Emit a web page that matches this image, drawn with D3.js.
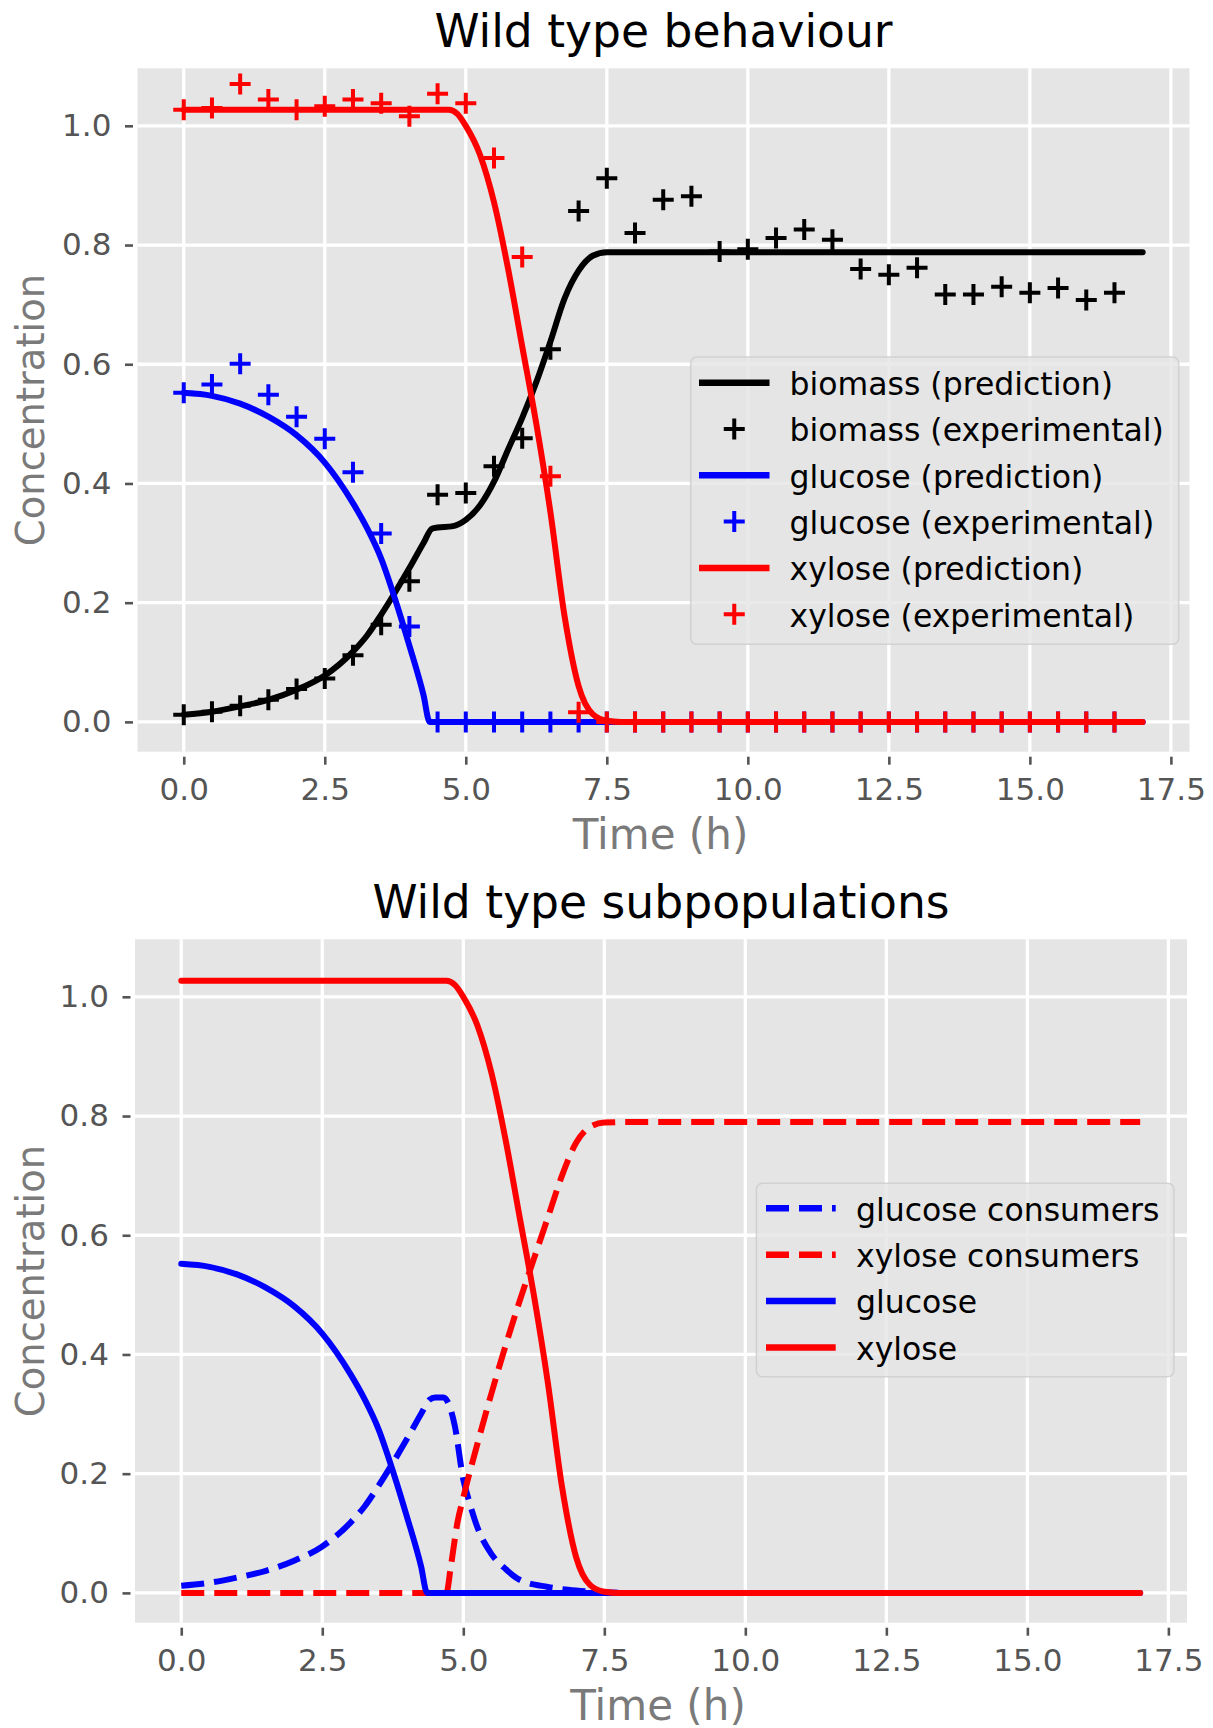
<!DOCTYPE html>
<html><head><meta charset="utf-8">
<script src="https://cdn.jsdelivr.net/npm/d3@7"></script>
<style>
body{margin:0;background:#fff}
svg{display:block}
text{font-family:"DejaVu Sans",sans-serif}
</style>
</head><body>
<svg id="chart" width="1213" height="1728"></svg>
<script>
// ---------- data ----------
const xTicks = [0, 2.5, 5, 7.5, 10, 12.5, 15, 17.5];
const yTicks = [0, 0.2, 0.4, 0.6, 0.8, 1.0];

// model predictions (time in h, concentration)
const biomassPredT = [0,0.5,1,1.5,2,2.5,3,3.25,3.5,3.75,4,4.25,4.4,4.5,4.75,5,5.25,5.5,5.75,6,6.25,6.5,6.75,7,7.25,7.5,8,17];
const biomassPredV = [0.012,0.017,0.026,0.037,0.054,0.078,0.118,0.145,0.18,0.218,0.258,0.3,0.324,0.326,0.328,0.339,0.363,0.403,0.457,0.51,0.57,0.638,0.71,0.757,0.782,0.788,0.788,0.788];

const glucosePredT = [0,0.5,1,1.5,2,2.5,3,3.25,3.5,3.75,4,4.25,4.36,5,17];
const glucosePredV = [0.552,0.547,0.534,0.512,0.481,0.435,0.367,0.325,0.274,0.205,0.128,0.045,0,0,0];

const xylosePredT = [0,4.7,4.85,5,5.25,5.5,5.75,6,6.25,6.5,6.75,7,7.25,7.5,7.75,17];
const xylosePredV = [1.027,1.027,1.02,1.0,0.952,0.872,0.76,0.63,0.5,0.352,0.178,0.06,0.013,0.002,0,0];

const glucoseConsT = [0,0.5,1,1.5,2,2.5,3,3.25,3.5,3.75,4,4.25,4.4,4.5,4.65,4.75,4.85,5,5.1,5.25,5.5,5.75,6,6.5,7,7.5,8,17];
const glucoseConsV = [0.012,0.017,0.026,0.037,0.054,0.078,0.118,0.145,0.18,0.218,0.258,0.3,0.324,0.328,0.328,0.315,0.28,0.19,0.155,0.11,0.065,0.04,0.022,0.01,0.004,0.001,0,0];

const xyloseConsT = [0,4.7,4.78,4.9,5,5.25,5.5,5.75,6,6.25,6.5,6.75,7,7.25,7.5,8,17];
const xyloseConsV = [0,0,0.045,0.12,0.16,0.25,0.335,0.415,0.49,0.56,0.63,0.7,0.755,0.782,0.789,0.79,0.79];

// experimental measurements
const expTime = [0,0.5,1,1.5,2,2.5,3,3.5,4,4.5,5,5.5,6,6.5,7,7.5,8,8.5,9,9.5,10,10.5,11,11.5,12,12.5,13,13.5,14,14.5,15,15.5,16,16.5];
const biomassExp = [0.012,0.017,0.027,0.037,0.055,0.073,0.112,0.163,0.236,0.381,0.384,0.429,0.476,0.625,0.857,0.912,0.82,0.876,0.882,0.789,0.793,0.812,0.826,0.809,0.76,0.75,0.762,0.717,0.717,0.73,0.72,0.728,0.708,0.72];
const glucoseExp = [0.552,0.566,0.601,0.549,0.512,0.475,0.419,0.316,0.16,0,0,0,0,0,0,0,0,0,0,0,0,0,0,0,0,0,0,0,0,0,0,0,0,0];
const xyloseExp = [1.027,1.030,1.070,1.044,1.027,1.033,1.044,1.038,1.016,1.054,1.038,0.946,0.780,0.412,0.016,0,0,0,0,0,0,0,0,0,0,0,0,0,0,0,0,0,0,0];

const titles = ["Wild type behaviour", "Wild type subpopulations"];
const xLabel = "Time (h)";
const yLabel = "Concentration";
const legend1Labels = ["biomass (prediction)","biomass (experimental)","glucose (prediction)","glucose (experimental)","xylose (prediction)","xylose (experimental)"];
const legend2Labels = ["glucose consumers","xylose consumers","glucose","xylose"];

// ---------- drawing ----------
const svg = d3.select("#chart");
svg.append("rect").attr("width",1213).attr("height",1728).attr("fill","#fff");

const zip = (T,V) => T.map((t,i)=>({t, v:V[i]}));

function panel(cfg){
  const g = svg.append("g");
  const x = d3.scaleLinear().domain([-0.82, 17.83]).range([cfg.left, cfg.right]);
  const y = d3.scaleLinear().domain([-0.05, 1.0965]).range([cfg.bottom, cfg.top]);
  const [x0,x1] = x.range(), [y0,y1] = y.range();

  g.append("rect").attr("x",x0).attr("y",y1).attr("width",x1-x0).attr("height",y0-y1).attr("fill","#E5E5E5");
  // grid
  g.append("g").selectAll("line").data(xTicks).join("line")
    .attr("x1",d=>x(d)).attr("x2",d=>x(d)).attr("y1",y1).attr("y2",y0)
    .attr("stroke","#fff").attr("stroke-width",3.3);
  g.append("g").selectAll("line").data(yTicks).join("line")
    .attr("y1",d=>y(d)).attr("y2",d=>y(d)).attr("x1",x0).attr("x2",x1)
    .attr("stroke","#fff").attr("stroke-width",3.3);

  // axes
  const ax = g.append("g").attr("transform",`translate(0,${y0+5})`)
    .call(d3.axisBottom(x).tickValues(xTicks).tickFormat(d3.format(".1f")).tickSizeInner(8).tickSizeOuter(0).tickPadding(13.3));
  const ay = g.append("g").attr("transform",`translate(${x0-4.5},0)`)
    .call(d3.axisLeft(y).tickValues(yTicks).tickFormat(d3.format(".1f")).tickSizeInner(8).tickSizeOuter(0).tickPadding(13.6));
  [ax,ay].forEach(a=>{
    a.select(".domain").remove();
    a.selectAll("line").attr("stroke","#555").attr("stroke-width",2.6);
    a.selectAll("text").attr("fill","#555").attr("font-size",31).attr("font-family","DejaVu Sans");
  });

  // labels
  g.append("text").attr("x",(x0+x1)/2).attr("y",cfg.titleY).attr("text-anchor","middle")
    .attr("font-size",45.6).attr("fill","#000").text(cfg.title);
  g.append("text").attr("x",(x0+x1)/2-3).attr("y",y0+97.5).attr("text-anchor","middle")
    .attr("font-size",42).attr("fill","#7a7a7a").text(xLabel);
  g.append("text").attr("transform",`translate(43.5,${(y0+y1)/2}) rotate(-90)`).attr("text-anchor","middle")
    .attr("font-size",38.5).attr("fill","#7a7a7a").text(yLabel);

  const line = d3.line().x(d=>x(d.t)).y(d=>y(d.v)).curve(d3.curveMonotoneX);
  const plot = g.append("g");
  cfg.series.forEach(s=>{
    if(s.type==="line"){
      plot.append("path").attr("d",line(zip(s.T,s.V))).attr("fill","none")
        .attr("stroke",s.color).attr("stroke-width",6).attr("stroke-linejoin","round")
        .attr("stroke-linecap", s.dash ? "butt" : "round")
        .attr("stroke-dasharray", s.dash ? "23,10" : null);
    } else {
      const pts = zip(s.T,s.V);
      plot.append("g").selectAll("path").data(pts).join("path")
        .attr("d",d=>`M${x(d.t)-10.5},${y(d.v)}H${x(d.t)+10.5}M${x(d.t)},${y(d.v)-10.5}V${y(d.v)+10.5}`)
        .attr("stroke",s.color).attr("stroke-width",4).attr("fill","none");
    }
  });

  // legend
  const L = cfg.legend;
  const lg = g.append("g");
  lg.append("rect").attr("x",L.x).attr("y",L.y).attr("width",L.w).attr("height",L.h).attr("rx",6)
    .attr("fill","#E5E5E5").attr("fill-opacity",0.8).attr("stroke","#cccccc").attr("stroke-opacity",0.8).attr("stroke-width",1.5);
  L.items.forEach((it,i)=>{
    const cy = L.firstY + i*L.step;
    if(it.type==="line"){
      lg.append("line").attr("x1",L.hx0).attr("x2",L.hx1).attr("y1",cy).attr("y2",cy)
        .attr("stroke",it.color).attr("stroke-width",6.5)
        .attr("stroke-dasharray", it.dash ? "23,10" : null);
    } else {
      const mx=(L.hx0+L.hx1)/2;
      lg.append("path").attr("d",`M${mx-10.5},${cy}H${mx+10.5}M${mx},${cy-10.5}V${cy+10.5}`)
        .attr("stroke",it.color).attr("stroke-width",4);
    }
    lg.append("text").attr("x",L.tx).attr("y",cy+12.3).attr("font-size",31.5).attr("fill","#000").text(it.label);
  });
}

panel({
  left:137.5, right:1189.5, top:68.3, bottom:751.7, titleY:46.7, title:titles[0],
  series:[
    {type:"line", T:biomassPredT, V:biomassPredV, color:"#000"},
    {type:"marker", T:expTime, V:biomassExp, color:"#000"},
    {type:"line", T:glucosePredT, V:glucosePredV, color:"#0000ff"},
    {type:"marker", T:expTime, V:glucoseExp, color:"#0000ff"},
    {type:"line", T:xylosePredT, V:xylosePredV, color:"#ff0000"},
    {type:"marker", T:expTime, V:xyloseExp, color:"#ff0000"}
  ],
  legend:{x:690.7, y:357, w:488, h:287.3, firstY:382.7, step:46.3, hx0:699, hx1:769.5, tx:789.5,
    items:[
      {label:legend1Labels[0], type:"line", color:"#000"},
      {label:legend1Labels[1], type:"marker", color:"#000"},
      {label:legend1Labels[2], type:"line", color:"#0000ff"},
      {label:legend1Labels[3], type:"marker", color:"#0000ff"},
      {label:legend1Labels[4], type:"line", color:"#ff0000"},
      {label:legend1Labels[5], type:"marker", color:"#ff0000"}
    ]}
});

panel({
  left:135, right:1187, top:939.3, bottom:1622.7, titleY:918.3, title:titles[1],
  series:[
    {type:"line", T:glucoseConsT, V:glucoseConsV, color:"#0000ff", dash:true},
    {type:"line", T:xyloseConsT, V:xyloseConsV, color:"#ff0000", dash:true},
    {type:"line", T:glucosePredT, V:glucosePredV, color:"#0000ff"},
    {type:"line", T:xylosePredT, V:xylosePredV, color:"#ff0000"}
  ],
  legend:{x:756.4, y:1183.3, w:417.5, h:193.4, firstY:1208.3, step:46.4, hx0:766, hx1:835.7, tx:856,
    items:[
      {label:legend2Labels[0], type:"line", color:"#0000ff", dash:true},
      {label:legend2Labels[1], type:"line", color:"#ff0000", dash:true},
      {label:legend2Labels[2], type:"line", color:"#0000ff"},
      {label:legend2Labels[3], type:"line", color:"#ff0000"}
    ]}
});
</script>
</body></html>
